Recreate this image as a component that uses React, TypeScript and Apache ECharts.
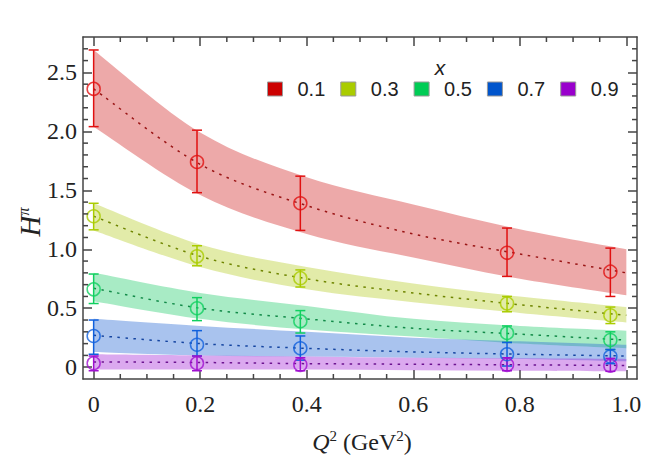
import React, { useEffect, useRef } from "react";
import * as echarts from "echarts";

// ---- data ----
const GROUPS = ["0.1", "0.3", "0.5", "0.7", "0.9"];

// lattice points (Q^2 in GeV^2)
const POINT_Q2 = [0, 0.194, 0.388, 0.776, 0.97];
const POINT_01 = [2.36, 1.74, 1.39, 0.97, 0.81];
const ERRLO_01 = [2.04, 1.48, 1.16, 0.77, 0.6];
const ERRHI_01 = [2.69, 2.01, 1.62, 1.18, 1.01];
const POINT_03 = [1.28, 0.94, 0.755, 0.54, 0.44];
const ERRLO_03 = [1.165, 0.86, 0.68, 0.47, 0.37];
const ERRHI_03 = [1.39, 1.03, 0.825, 0.6, 0.51];
const POINT_05 = [0.66, 0.5, 0.39, 0.29, 0.23];
const ERRLO_05 = [0.54, 0.395, 0.29, 0.21, 0.15];
const ERRHI_05 = [0.79, 0.59, 0.48, 0.35, 0.3];
const POINT_07 = [0.265, 0.19, 0.16, 0.11, 0.09];
const ERRLO_07 = [0.11, 0.095, 0.06, 0.01, 0.03];
const ERRHI_07 = [0.4, 0.31, 0.265, 0.21, 0.15];
const POINT_09 = [0.033, 0.033, 0.02, 0.02, 0.013];
const ERRLO_09 = [-0.03, -0.03, -0.03, -0.03, -0.035];
const ERRHI_09 = [0.095, 0.095, 0.08, 0.08, 0.075];

// fit bands
const BAND_Q2 = [0, 0.2, 0.4, 0.6, 0.8, 1.0];
const CENTER_01 = [2.36, 1.72, 1.37, 1.13, 0.96, 0.8];
const UPPER_01 = [2.69, 1.99, 1.61, 1.38, 1.17, 1.0];
const LOWER_01 = [2.04, 1.46, 1.13, 0.93, 0.75, 0.61];
const CENTER_03 = [1.28, 0.94, 0.75, 0.63, 0.53, 0.44];
const UPPER_03 = [1.39, 1.04, 0.85, 0.71, 0.6, 0.51];
const LOWER_03 = [1.16, 0.85, 0.66, 0.55, 0.46, 0.38];
const CENTER_05 = [0.67, 0.5, 0.41, 0.33, 0.28, 0.23];
const UPPER_05 = [0.8, 0.63, 0.52, 0.41, 0.35, 0.31];
const LOWER_05 = [0.56, 0.41, 0.32, 0.26, 0.2, 0.16];
const CENTER_07 = [0.27, 0.2, 0.16, 0.13, 0.11, 0.095];
const UPPER_07 = [0.41, 0.35, 0.3, 0.25, 0.22, 0.19];
const LOWER_07 = [0.13, 0.1, 0.09, 0.08, 0.07, 0.05];
const CENTER_09 = [0.045, 0.04, 0.03, 0.025, 0.02, 0.015];
const UPPER_09 = [0.11, 0.1, 0.09, 0.08, 0.075, 0.07];
const LOWER_09 = [-0.02, -0.02, -0.02, -0.025, -0.03, -0.035];

// axis ticks
const X_MAJOR = [0, 0.2, 0.4, 0.6, 0.8, 1.0];
const X_MINOR = [0.05, 0.1, 0.15, 0.25, 0.3, 0.35, 0.45, 0.5, 0.55, 0.65, 0.7, 0.75, 0.85, 0.9, 0.95];
const Y_MAJOR = [0, 0.5, 1.0, 1.5, 2.0, 2.5];
const Y_MINOR = [0.1, 0.2, 0.3, 0.4, 0.6, 0.7, 0.8, 0.9, 1.1, 1.2, 1.3, 1.4, 1.6, 1.7, 1.8, 1.9, 2.1, 2.2, 2.3, 2.4, 2.6, 2.7];

// ---- styles ----
const MARK_COLORS = ["#e01010", "#aacc00", "#10d060", "#1060dd", "#a010d0"];
const LEGEND_COLORS = ["#cc0000", "#aacc00", "#00cc55", "#0055cc", "#9900cc"];
const BAND_COLORS = [
  "rgba(210,40,40,0.4)",
  "rgba(182,205,40,0.4)",
  "rgba(37,205,110,0.4)",
  "rgba(40,105,212,0.4)",
  "rgba(165,40,215,0.4)",
];
const LINE_COLORS = ["#9a1515", "#6f8500", "#128a48", "#1444a0", "#6c1390"];

const AXIS_COLOR = "#444";
const SERIF = "Liberation Serif";

// smooth (Catmull-Rom) path through pixel points, continuing an existing path
function splineSegments(pts: number[][], start: boolean): string {
  let d = start ? `M${pts[0][0]},${pts[0][1]}` : `L${pts[0][0]},${pts[0][1]}`;
  for (let i = 0; i < pts.length - 1; i++) {
    const p0 = pts[Math.max(i - 1, 0)];
    const p1 = pts[i];
    const p2 = pts[i + 1];
    const p3 = pts[Math.min(i + 2, pts.length - 1)];
    const c1x = p1[0] + (p2[0] - p0[0]) / 6;
    const c1y = p1[1] + (p2[1] - p0[1]) / 6;
    const c2x = p2[0] - (p3[0] - p1[0]) / 6;
    const c2y = p2[1] - (p3[1] - p1[1]) / 6;
    d += ` C${c1x},${c1y} ${c2x},${c2y} ${p2[0]},${p2[1]}`;
  }
  return d;
}

export default function App() {
  const ref = useRef<HTMLDivElement>(null);

  useEffect(() => {
    if (!ref.current) return;
    const chart = echarts.init(ref.current, null, { renderer: "svg" });

    const points = [POINT_01, POINT_03, POINT_05, POINT_07, POINT_09];
    const errLo = [ERRLO_01, ERRLO_03, ERRLO_05, ERRLO_07, ERRLO_09];
    const errHi = [ERRHI_01, ERRHI_03, ERRHI_05, ERRHI_07, ERRHI_09];
    const centers = [CENTER_01, CENTER_03, CENTER_05, CENTER_07, CENTER_09];
    const uppers = [UPPER_01, UPPER_03, UPPER_05, UPPER_07, UPPER_09];
    const lowers = [LOWER_01, LOWER_03, LOWER_05, LOWER_07, LOWER_09];

    const series: any[] = [];
    // bands (custom filled regions between lower and upper curves)
    GROUPS.forEach((g, i) => {
      series.push({
        type: "custom",
        name: g,
        data: BAND_Q2.map((q, k) => [q, lowers[i][k], uppers[i][k]]),
        encode: { x: 0, y: [1, 2] },
        silent: true,
        z: 1,
        renderItem: (params: any, api: any) => {
          if (params.dataIndexInside !== 0) return null;
          const n = params.dataInsideLength;
          const up: number[][] = [];
          const lo: number[][] = [];
          for (let k = 0; k < n; k++) {
            const x = api.value(0, k);
            up.push(api.coord([x, api.value(2, k)]));
            lo.push(api.coord([x, api.value(1, k)]));
          }
          const d = splineSegments(up, true) + " " + splineSegments(lo.reverse(), false) + " Z";
          return {
            type: "path",
            shape: { pathData: d },
            style: { fill: BAND_COLORS[i], stroke: "none" },
          };
        },
      });
    });
    // center dotted lines
    GROUPS.forEach((g, i) => {
      series.push({
        type: "custom",
        name: g,
        data: BAND_Q2.map((q, k) => [q, centers[i][k]]),
        silent: true,
        z: 2,
        renderItem: (params: any, api: any) => {
          if (params.dataIndexInside !== 0) return null;
          const n = params.dataInsideLength;
          const pts: number[][] = [];
          for (let k = 0; k < n; k++) pts.push(api.coord([api.value(0, k), api.value(1, k)]));
          return {
            type: "path",
            shape: { pathData: splineSegments(pts, true) },
            style: { fill: "none", stroke: LINE_COLORS[i], lineWidth: 1.5, lineDash: [2.5, 5.5] },
          };
        },
      });
    });
    // error bars
    GROUPS.forEach((g, i) => {
      const color = MARK_COLORS[i];
      series.push({
        type: "custom",
        name: g,
        data: POINT_Q2.map((q, k) => [q, errLo[i][k], errHi[i][k]]),
        encode: { x: 0, y: [1, 2] },
        z: 3,
        renderItem: (params: any, api: any) => {
          const x = api.value(0);
          const lo = api.coord([x, api.value(1)]);
          const hi = api.coord([x, api.value(2)]);
          const w = 5;
          const style = { stroke: color, lineWidth: 1.5, fill: "none" };
          return {
            type: "group",
            children: [
              { type: "line", shape: { x1: lo[0], y1: lo[1], x2: hi[0], y2: hi[1] }, style },
              { type: "line", shape: { x1: lo[0] - w, y1: lo[1], x2: lo[0] + w, y2: lo[1] }, style },
              { type: "line", shape: { x1: hi[0] - w, y1: hi[1], x2: hi[0] + w, y2: hi[1] }, style },
            ],
          };
        },
      });
    });
    // open circle markers
    GROUPS.forEach((g, i) => {
      series.push({
        type: "scatter",
        name: g,
        data: POINT_Q2.map((q, k) => [q, points[i][k]]),
        symbol: "circle",
        symbolSize: 13,
        itemStyle: { color: "rgba(0,0,0,0)", borderColor: MARK_COLORS[i], borderWidth: 1.5 },
        z: 4,
      });
    });

    const lineStyle = { color: AXIS_COLOR, width: 1.5 };
    // minor ticks on all four sides
    series.push({
      type: "custom",
      data: X_MINOR.map((v) => [v, 0]),
      silent: true,
      z: 5,
      renderItem: (params: any, api: any) => {
        const cs = params.coordSys;
        const px = api.coord([api.value(0), 0])[0];
        const style = { stroke: AXIS_COLOR, lineWidth: 1.5 };
        return {
          type: "group",
          children: [
            { type: "line", shape: { x1: px, y1: cs.y + cs.height, x2: px, y2: cs.y + cs.height - 5 }, style },
            { type: "line", shape: { x1: px, y1: cs.y, x2: px, y2: cs.y + 5 }, style },
          ],
        };
      },
    });
    series.push({
      type: "custom",
      data: Y_MINOR.map((v) => [0, v]),
      silent: true,
      z: 5,
      renderItem: (params: any, api: any) => {
        const cs = params.coordSys;
        const py = api.coord([0, api.value(1)])[1];
        const style = { stroke: AXIS_COLOR, lineWidth: 1.5 };
        return {
          type: "group",
          children: [
            { type: "line", shape: { x1: cs.x, y1: py, x2: cs.x + 5, y2: py }, style },
            { type: "line", shape: { x1: cs.x + cs.width, y1: py, x2: cs.x + cs.width - 5, y2: py }, style },
          ],
        };
      },
    });

    const tickFmt = (v: number) => (Math.abs(v) < 1e-9 ? "0" : v.toFixed(1));

    const xBase = { type: "value", min: -0.02, max: 1.02, splitLine: { show: false } };
    const yBase = { type: "value", min: -0.1, max: 2.8, splitLine: { show: false } };

    const option: any = {
      animation: false,
      backgroundColor: "#fff",
      grid: { left: 83, right: 8, top: 37, bottom: 88 },
      xAxis: [
        {
          ...xBase,
          position: "bottom",
          axisLine: { show: true, onZero: false, lineStyle },
          axisTick: { show: true, inside: true, length: 9, customValues: X_MAJOR, lineStyle },
          axisLabel: {
            show: true,
            customValues: X_MAJOR,
            formatter: tickFmt,
            fontFamily: SERIF,
            fontSize: 24,
            color: "#222",
            margin: 13,
          },
        },
        {
          ...xBase,
          position: "top",
          axisLine: { show: true, onZero: false, lineStyle },
          axisTick: { show: true, inside: true, length: 9, customValues: X_MAJOR, lineStyle },
          axisLabel: { show: false },
        },
      ],
      yAxis: [
        {
          ...yBase,
          position: "left",
          axisLine: { show: true, onZero: false, lineStyle },
          axisTick: { show: true, inside: true, length: 9, customValues: Y_MAJOR, lineStyle },
          axisLabel: {
            show: true,
            customValues: Y_MAJOR,
            formatter: tickFmt,
            fontFamily: SERIF,
            fontSize: 24,
            color: "#222",
            margin: 6,
          },
        },
        {
          ...yBase,
          position: "right",
          axisLine: { show: true, onZero: false, lineStyle },
          axisTick: { show: true, inside: true, length: 9, customValues: Y_MAJOR, lineStyle },
          axisLabel: { show: false },
        },
      ],
      legend: {
        left: 267,
        top: 79,
        padding: 0,
        icon: "rect",
        itemWidth: 15,
        itemHeight: 14,
        itemGap: 15,
        selectedMode: false,
        textStyle: {
          fontFamily: "Liberation Sans",
          fontSize: 20,
          color: "#222",
          padding: [0, 0, 0, 10],
        },
        data: GROUPS.map((g, i) => ({
          name: g,
          itemStyle: { color: LEGEND_COLORS[i], borderColor: "#999", borderWidth: 1, opacity: 1 },
        })),
      },
      graphic: [
        {
          type: "text",
          x: 440,
          y: 67,
          style: {
            text: "x",
            font: "italic 21px 'Liberation Sans'",
            fill: "#222",
            textAlign: "center",
            textVerticalAlign: "middle",
          },
        },
        {
          type: "text",
          x: 30,
          y: 222,
          rotation: Math.PI / 2,
          style: {
            text: "{i|H}{s|π}",
            fill: "#222",
            align: "center",
            verticalAlign: "middle",
            rich: {
              i: { fontFamily: SERIF, fontStyle: "italic", fontSize: 29, fill: "#222" },
              s: { fontFamily: SERIF, fontStyle: "italic", fontSize: 16, fill: "#222", padding: [0, 0, 14, 0] },
            },
          },
        },
        {
          type: "text",
          x: 362,
          y: 442,
          style: {
            text: "{i|Q}{s|2}{n| (GeV}{s|2}{n|)}",
            fill: "#222",
            align: "center",
            verticalAlign: "middle",
            rich: {
              i: { fontFamily: SERIF, fontStyle: "italic", fontSize: 24, fill: "#222" },
              n: { fontFamily: SERIF, fontSize: 24, fill: "#222" },
              s: { fontFamily: SERIF, fontSize: 15, fill: "#222", padding: [0, 0, 12, 0] },
            },
          },
        },
      ],
      series,
    };

    chart.setOption(option);
    return () => chart.dispose();
  }, []);

  return (
    <div
      ref={ref}
      style={{ position: "fixed", left: 0, top: 0, width: 645, height: 467, background: "#fff" }}
    />
  );
}
